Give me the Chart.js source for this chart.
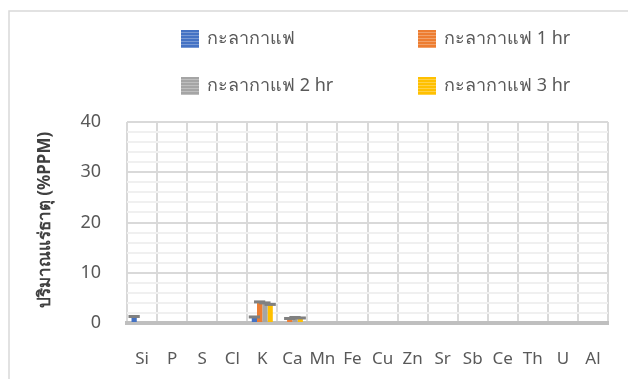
<!DOCTYPE html>
<html>
<head>
<meta charset="utf-8">
<script src="https://cdn.jsdelivr.net/npm/chart.js@4"></script>
<style>
  html, body { margin: 0; padding: 0; background: #fff; }
  #wrap { width: 628px; height: 379px; position: relative; overflow: hidden; }
</style>
</head>
<body>
<div id="wrap"><canvas id="chart" width="628" height="379"></canvas></div>
<script>
// ธาตุที่วัดได้
const elements = ['Si', 'P', 'S', 'Cl', 'K', 'Ca', 'Mn', 'Fe', 'Cu', 'Zn', 'Sr', 'Sb', 'Ce', 'Th', 'U', 'Al'];

const seriesNames = ['กะลากาแฟ', 'กะลากาแฟ 1 hr', 'กะลากาแฟ 2 hr', 'กะลากาแฟ 3 hr'];
const seriesColors = ['#4472c4', '#ed7d31', '#a5a5a5', '#ffc000'];

// ปริมาณแร่ธาตุ (%PPM)
const raw0h = [1.2, 0, 0, 0, 1.1, 0, 0, 0, 0, 0, 0, 0, 0, 0, 0, 0];
const raw1h = [0, 0, 0, 0, 4.1, 0.8, 0, 0, 0, 0, 0, 0, 0, 0, 0, 0];
const raw2h = [0, 0, 0, 0, 3.9, 1.0, 0, 0, 0, 0, 0, 0, 0, 0, 0, 0];
const raw3h = [0, 0, 0, 0, 3.6, 0.9, 0, 0, 0, 0, 0, 0, 0, 0, 0, 0];

const yTicks = [0, 10, 20, 30, 40];
const yTitle = 'ปริมาณแร่ธาตุ (%PPM)';

const TEXT = '#595959';
const FONT = '"Noto Sans", "Open Sans", sans-serif';

const seriesValues = [raw0h, raw1h, raw2h, raw3h];

// ฝาด้านบนของแท่ง (เลียนแบบแท่ง 3 มิติ)
const barCaps = {
  id: 'barCaps',
  afterDatasetsDraw(chart) {
    const ctx = chart.ctx;
    ctx.save();
    ctx.fillStyle = '#808080';
    chart.data.datasets.forEach((ds, i) => {
      chart.getDatasetMeta(i).data.forEach((bar, j) => {
        if (!ds.data[j]) return;
        const { x, y, width } = bar.getProps(['x', 'y', 'width'], true);
        ctx.fillRect(x - width / 2 - 3, y - 2, width + 6, 3);
      });
    });
    ctx.restore();
  }
};

// กรอบของแผนภูมิ + legend แบบ 2x2 + ชื่อแกน y
const decorations = {
  id: 'decorations',
  beforeDraw(chart) {
    const ctx = chart.ctx;
    ctx.save();
    ctx.strokeStyle = '#d9d9d9';
    ctx.lineWidth = 1.5;
    ctx.beginPath();
    ctx.moveTo(9, 379);
    ctx.lineTo(9, 11);
    ctx.lineTo(628, 11);
    ctx.stroke();
    ctx.restore();
  },
  afterDraw(chart) {
    const ctx = chart.ctx;
    ctx.save();
    const cols = [181, 418];
    const rows = [30, 77];
    chart.data.datasets.forEach((ds, i) => {
      const x = cols[i % 2];
      const y = rows[Math.floor(i / 2)];
      ctx.fillStyle = ds.backgroundColor;
      ctx.fillRect(x, y, 18, 18);
      // แถบลายในกล่องสี
      ctx.fillStyle = 'rgba(255,255,255,0.28)';
      for (let s = y + 2; s < y + 18; s += 3) ctx.fillRect(x, s, 18, 1);
      ctx.fillStyle = TEXT;
      ctx.font = '18px ' + FONT;
      ctx.textBaseline = 'middle';
      ctx.textAlign = 'left';
      ctx.fillText(ds.label, x + 26, y + 9);
    });

    ctx.translate(45, 220);
    ctx.rotate(-Math.PI / 2);
    ctx.font = 'bold 17px ' + FONT;
    ctx.fillStyle = '#404040';
    ctx.textAlign = 'center';
    ctx.textBaseline = 'middle';
    ctx.fillText(yTitle, 0, 0);
    ctx.restore();
  }
};

new Chart(document.getElementById('chart'), {
  type: 'bar',
  data: {
    labels: elements,
    datasets: seriesNames.map((name, i) => ({
      label: name,
      data: seriesValues[i],
      backgroundColor: seriesColors[i],
      borderWidth: 0,
      categoryPercentage: 0.7,
      barPercentage: 1.0
    }))
  },
  options: {
    responsive: false,
    animation: false,
    layout: { padding: { top: 122, right: 20, left: 0, bottom: 0 } },
    plugins: {
      legend: { display: false },
      tooltip: { enabled: false }
    },
    scales: {
      x: {
        afterFit: s => { s.height = 56; },
        grid: { offset: true, color: '#d9d9d9', lineWidth: 2, drawTicks: false },
        border: { color: '#bfbfbf', width: 4 },
        ticks: { color: TEXT, font: { size: 17, family: FONT }, padding: 26, maxRotation: 0, autoSkip: false }
      },
      y: {
        min: 0,
        max: 40,
        afterFit: s => { s.width = 127; },
        grid: {
          color: c => (yTicks.includes(c.tick.value) ? '#d9d9d9' : '#f0f0f0'),
          lineWidth: 2,
          drawTicks: false
        },
        border: { display: false },
        ticks: {
          stepSize: 2,
          maxTicksLimit: 30,
          autoSkip: false,
          padding: 26,
          color: TEXT,
          font: { size: 18, family: FONT },
          callback: v => (yTicks.includes(v) ? v : '')
        }
      }
    }
  },
  plugins: [barCaps, decorations]
});
</script>
</body>
</html>
